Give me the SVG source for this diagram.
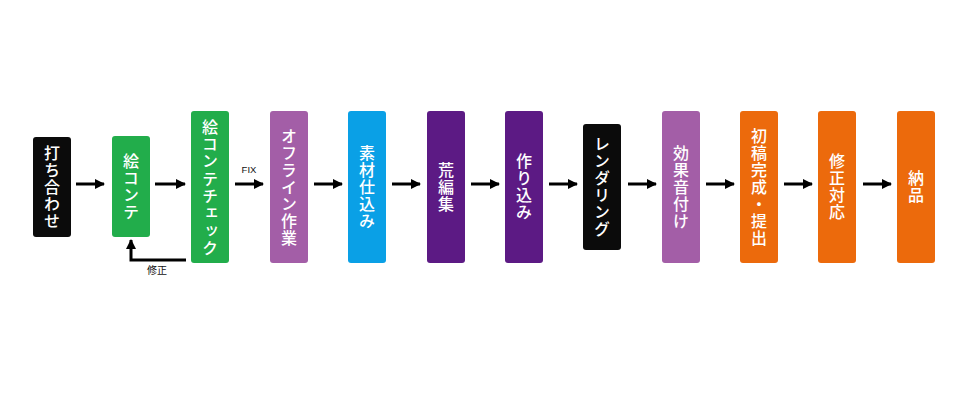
<svg xmlns="http://www.w3.org/2000/svg" width="960" height="400" viewBox="0 0 960 400">
<style>
.box{stroke:none}
.lbl{font-family:"Noto Sans CJK JP","Noto Sans CJK SC",sans-serif;font-size:16px;font-weight:500;fill:#fff;writing-mode:vertical-rl;text-anchor:middle;letter-spacing:1px}
.small{font-family:"Noto Sans CJK JP","Liberation Sans",sans-serif;font-size:10px;fill:#111;text-anchor:middle}
.arr{stroke:#000;stroke-width:3;fill:none}
.black{fill:#0b0b0b}
.green{fill:#22ad4b}
.lpur{fill:#a35ea7}
.blue{fill:#0aa0e6}
.dpur{fill:#5c1a84}
.orange{fill:#ec6a0c}
</style>
<defs>
<marker id="ah" markerUnits="userSpaceOnUse" markerWidth="11" markerHeight="11" refX="9" refY="5" orient="auto">
<path d="M0,0 L10,5 L0,10 z" fill="#000"/>
</marker>
</defs>
<rect width="960" height="400" fill="#fff"/>
<g id="n1"><rect class="box black" x="33" y="137" width="38" height="100" rx="3"/><text class="lbl" x="52" y="187">打ち合わせ</text></g>
<g id="n2"><rect class="box green" x="112" y="136" width="38" height="101" rx="3"/><text class="lbl" x="131" y="187">絵コンテ</text></g>
<g id="n3"><rect class="box green" x="191" y="111" width="38" height="152" rx="3"/><text class="lbl" x="210" y="188" style="letter-spacing:1.3px">絵コンテチェック</text></g>
<g id="n4"><rect class="box lpur" x="270" y="111" width="38" height="152" rx="3"/><text class="lbl" x="289" y="187">オフライン作業</text></g>
<g id="n5"><rect class="box blue" x="348" y="111" width="38" height="152" rx="3"/><text class="lbl" x="367" y="187">素材仕込み</text></g>
<g id="n6"><rect class="box dpur" x="427" y="111" width="38" height="152" rx="3"/><text class="lbl" x="446" y="187">荒編集</text></g>
<g id="n7"><rect class="box dpur" x="505" y="111" width="38" height="152" rx="3"/><text class="lbl" x="524" y="187">作り込み</text></g>
<g id="n8"><rect class="box black" x="583" y="124" width="38" height="126" rx="3"/><text class="lbl" x="602" y="187">レンダリング</text></g>
<g id="n9"><rect class="box lpur" x="662" y="111" width="38" height="152" rx="3"/><text class="lbl" x="681" y="187">効果音付け</text></g>
<g id="n10"><rect class="box orange" x="740" y="111" width="38" height="152" rx="3"/><text class="lbl" x="759" y="187">初稿完成・提出</text></g>
<g id="n11"><rect class="box orange" x="818" y="111" width="38" height="152" rx="3"/><text class="lbl" x="837" y="187">修正対応</text></g>
<g id="n12"><rect class="box orange" x="897" y="111" width="38" height="152" rx="3"/><text class="lbl" x="916" y="187">納品</text></g>
<g id="connectors">
<line class="arr" x1="76" y1="184" x2="104" y2="184" marker-end="url(#ah)"/>
<line class="arr" x1="155" y1="184" x2="185" y2="184" marker-end="url(#ah)"/>
<line class="arr" x1="235" y1="184" x2="263" y2="184" marker-end="url(#ah)"/>
<line class="arr" x1="314" y1="184" x2="342" y2="184" marker-end="url(#ah)"/>
<line class="arr" x1="392" y1="184" x2="420" y2="184" marker-end="url(#ah)"/>
<line class="arr" x1="471" y1="184" x2="499" y2="184" marker-end="url(#ah)"/>
<line class="arr" x1="549" y1="184" x2="577" y2="184" marker-end="url(#ah)"/>
<line class="arr" x1="628" y1="184" x2="656" y2="184" marker-end="url(#ah)"/>
<line class="arr" x1="706" y1="184" x2="734" y2="184" marker-end="url(#ah)"/>
<line class="arr" x1="784" y1="184" x2="812" y2="184" marker-end="url(#ah)"/>
<line class="arr" x1="863" y1="184" x2="891" y2="184" marker-end="url(#ah)"/>
<path class="arr" d="M186,260 L131,260 L131,240" marker-end="url(#ah)"/>
<text class="small" x="249" y="173" style="font-family:'Liberation Sans',sans-serif;font-size:9.5px">FIX</text>
<text class="small" x="157" y="274">修正</text>
</g>
</svg>
